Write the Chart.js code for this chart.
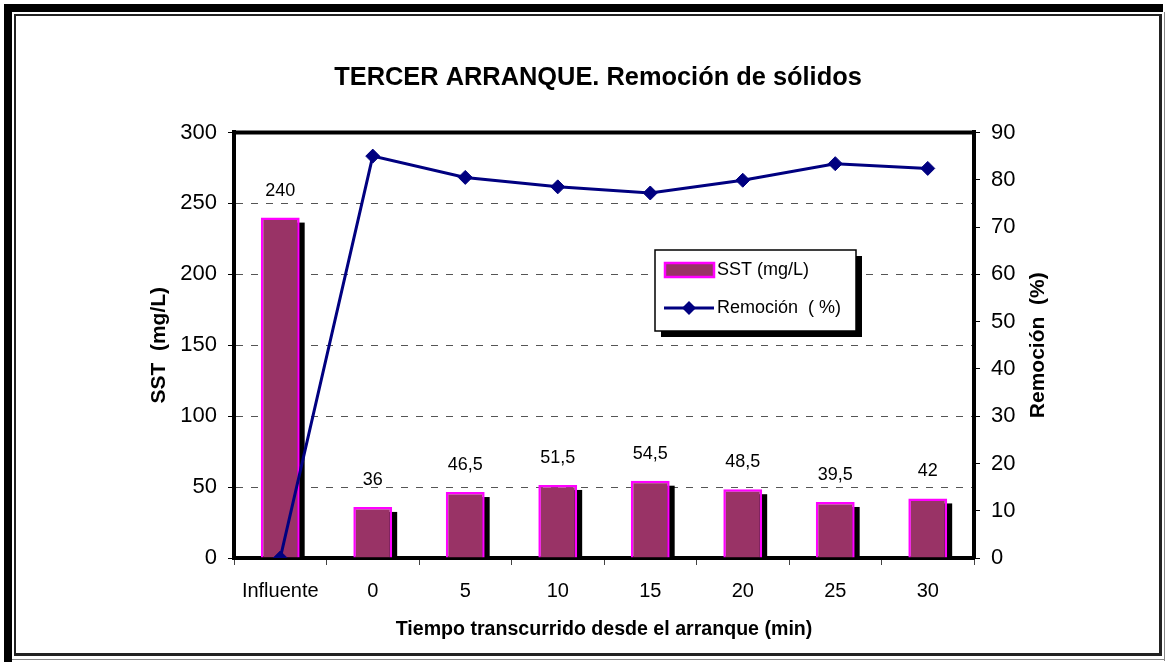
<!DOCTYPE html>
<html>
<head>
<meta charset="utf-8">
<script src="https://cdn.jsdelivr.net/npm/chart.js@4.4.1/dist/chart.umd.min.js"></script>
<style>
  html, body { margin:0; padding:0; background:#fff; }
  #wrap { position:relative; width:1166px; height:662px; overflow:hidden; background:#fff; }
  #c { position:absolute; left:0; top:0; }
  .f { position:absolute; pointer-events:none; }
</style>
</head>
<body>
<div id="wrap">
  <canvas id="c" width="1166" height="662"></canvas>
  <div class="f" style="left:4px;top:4px;width:1159px;height:8px;background:#000"></div>
  <div class="f" style="left:4px;top:4px;width:8px;height:658px;background:#000"></div>
  <div class="f" style="left:14px;top:14px;width:1148px;height:642px;box-sizing:border-box;border-style:solid;border-color:#222;border-width:2px 3px 3px 2px"></div>
  <div class="f" style="left:1164px;top:12px;width:1px;height:649px;background:#888"></div>
  <div class="f" style="left:12px;top:659px;width:1153px;height:1px;background:#888"></div>
</div>
<script>
const categories = ['Influente', '0', '5', '10', '15', '20', '25', '30'];
const sstValues = [240, 36, 46.5, 51.5, 54.5, 48.5, 39.5, 42];
const remocionValues = [0, 85, 80.5, 78.5, 77.2, 79.9, 83.4, 82.4];
const leftTicks = [0, 50, 100, 150, 200, 250, 300];
const rightTicks = [0, 10, 20, 30, 40, 50, 60, 70, 80, 90];
const rightTitle = 'Remoción  (%)';

const FONT = "'Liberation Sans', Arial, sans-serif";
const BAR_FILL = '#993366';
const BAR_BORDER = '#FF00FF';
const LINE_COLOR = '#000080';

const fmt = v => String(v).replace('.', ',');

const shadowPlugin = {
  id: 'barShadow',
  beforeDatasetDraw(chart, args) {
    if (args.index !== 0) return;
    const ctx = chart.ctx;
    const meta = chart.getDatasetMeta(0);
    ctx.save();
    ctx.fillStyle = '#000';
    meta.data.forEach(el => {
      const w = el.width;
      const left = el.x - w / 2 + 5;
      const top = el.y + 5;
      ctx.fillRect(left, top, w, el.base - top);
    });
    ctx.restore();
  }
};

const labelsPlugin = {
  id: 'barLabels',
  afterDatasetsDraw(chart) {
    const ctx = chart.ctx;
    const meta = chart.getDatasetMeta(0);
    ctx.save();
    ctx.font = '18px ' + FONT;
    ctx.fillStyle = '#000';
    ctx.textAlign = 'center';
    ctx.textBaseline = 'middle';
    meta.data.forEach((el, i) => {
      ctx.fillText(fmt(sstValues[i]), el.x, el.y - 27);
    });
    ctx.restore();
  }
};

const frameLegendPlugin = {
  id: 'frameLegend',
  afterDraw(chart) {
    const ctx = chart.ctx;
    const a = chart.chartArea;
    ctx.save();
    // top border of plot area
    ctx.strokeStyle = '#000';
    ctx.lineWidth = 4;
    ctx.beginPath();
    ctx.moveTo(a.left - 2, a.top);
    ctx.lineTo(a.right + 2, a.top);
    ctx.stroke();

    // right axis title (reads bottom to top)
    ctx.save();
    ctx.translate(1038, (a.top + a.bottom) / 2);
    ctx.rotate(-Math.PI / 2);
    ctx.fillStyle = '#000';
    ctx.font = 'bold 21px ' + FONT;
    ctx.textAlign = 'center';
    ctx.textBaseline = 'middle';
    ctx.fillText(rightTitle, 0, 0);
    ctx.restore();

    // legend
    const lx = 655, ly = 250, lw = 201, lh = 81;
    ctx.fillStyle = '#000';
    ctx.fillRect(lx + 6, ly + 6, lw, lh);
    ctx.fillStyle = '#fff';
    ctx.fillRect(lx, ly, lw, lh);
    ctx.lineWidth = 1.5;
    ctx.strokeStyle = '#000';
    ctx.strokeRect(lx, ly, lw, lh);

    const ds = chart.data.datasets;
    ctx.fillStyle = BAR_FILL;
    ctx.fillRect(665, 263, 49, 14);
    ctx.lineWidth = 2.5;
    ctx.strokeStyle = BAR_BORDER;
    ctx.strokeRect(665, 263, 49, 14);
    ctx.strokeStyle = LINE_COLOR;
    ctx.lineWidth = 3;
    ctx.beginPath();
    ctx.moveTo(664, 308);
    ctx.lineTo(714, 308);
    ctx.stroke();
    ctx.fillStyle = LINE_COLOR;
    ctx.beginPath();
    ctx.moveTo(689 - 7, 308);
    ctx.lineTo(689, 301);
    ctx.lineTo(689 + 7, 308);
    ctx.lineTo(689, 315);
    ctx.closePath();
    ctx.fill();

    ctx.fillStyle = '#000';
    ctx.font = '18px ' + FONT;
    ctx.textAlign = 'left';
    ctx.textBaseline = 'middle';
    ctx.fillText(ds[0].label, 717, 270);
    ctx.fillText(ds[1].label, 717, 308);
    ctx.restore();
  }
};

new Chart(document.getElementById('c'), {
  data: {
    labels: categories,
    datasets: [
      {
        type: 'bar',
        label: 'SST (mg/L)',
        data: sstValues,
        yAxisID: 'y',
        backgroundColor: BAR_FILL,
        borderColor: BAR_BORDER,
        borderWidth: 2.5,
        categoryPercentage: 1,
        barPercentage: 0.42,
        order: 2
      },
      {
        type: 'line',
        label: 'Remoción  ( %)',
        data: remocionValues,
        yAxisID: 'y1',
        borderColor: LINE_COLOR,
        backgroundColor: LINE_COLOR,
        borderWidth: 3,
        pointStyle: 'rectRot',
        pointRadius: 7,
        pointBorderWidth: 1,
        pointBackgroundColor: LINE_COLOR,
        pointBorderColor: LINE_COLOR,
        tension: 0,
        fill: false,
        order: 1
      }
    ]
  },
  options: {
    responsive: false,
    animation: false,
    devicePixelRatio: 1,
    layout: { padding: { left: 30, right: 0, top: 0, bottom: 0 } },
    plugins: {
      legend: { display: false },
      tooltip: { enabled: false },
      title: {
        display: true,
        text: 'TERCER ARRANQUE. Remoción de sólidos',
        color: '#000',
        font: { family: FONT, size: 25.4, weight: 'bold' },
        padding: { top: 63, bottom: 39 }
      }
    },
    scales: {
      x: {
        offset: true,
        grid: { display: true, offset: true, drawOnChartArea: false, drawTicks: true, tickLength: 7, color: '#444', lineWidth: 1 },
        border: { display: true, color: '#000', width: 4 },
        ticks: { color: '#000', font: { family: FONT, size: 20 }, padding: 14, maxRotation: 0 },
        title: { display: true, text: 'Tiempo transcurrido desde el arranque (min)', color: '#000', font: { family: FONT, size: 19.6, weight: 'bold' }, padding: { top: 0, bottom: 21 } },
        afterFit(s) { s.height = 104; }
      },
      y: {
        position: 'left',
        min: 0, max: 300,
        afterBuildTicks(s) { s.ticks = leftTicks.map(v => ({ value: v })); },
        grid: { color: '#555', lineWidth: 1, drawTicks: true, tickLength: 6, tickColor: '#000' },
        border: { display: true, color: '#000', width: 4, dash: [7, 8] },
        ticks: { color: '#000', font: { family: FONT, size: 22 }, padding: 11 },
        title: { display: true, text: 'SST  (mg/L)', color: '#000', font: { family: FONT, size: 21, weight: 'bold' }, padding: { top: 117, bottom: 0 } },
        afterFit(s) { s.width = 204; }
      },
      y1: {
        position: 'right',
        min: 0, max: 90,
        afterBuildTicks(s) { s.ticks = rightTicks.map(v => ({ value: v })); },
        grid: { drawOnChartArea: false, drawTicks: true, tickLength: 6, color: '#000' },
        border: { display: true, color: '#000', width: 4 },
        ticks: { color: '#000', font: { family: FONT, size: 22 }, padding: 11 },
        title: { display: false },
        afterFit(s) { s.width = 192; }
      }
    }
  },
  plugins: [shadowPlugin, labelsPlugin, frameLegendPlugin]
});
</script>
</body>
</html>
